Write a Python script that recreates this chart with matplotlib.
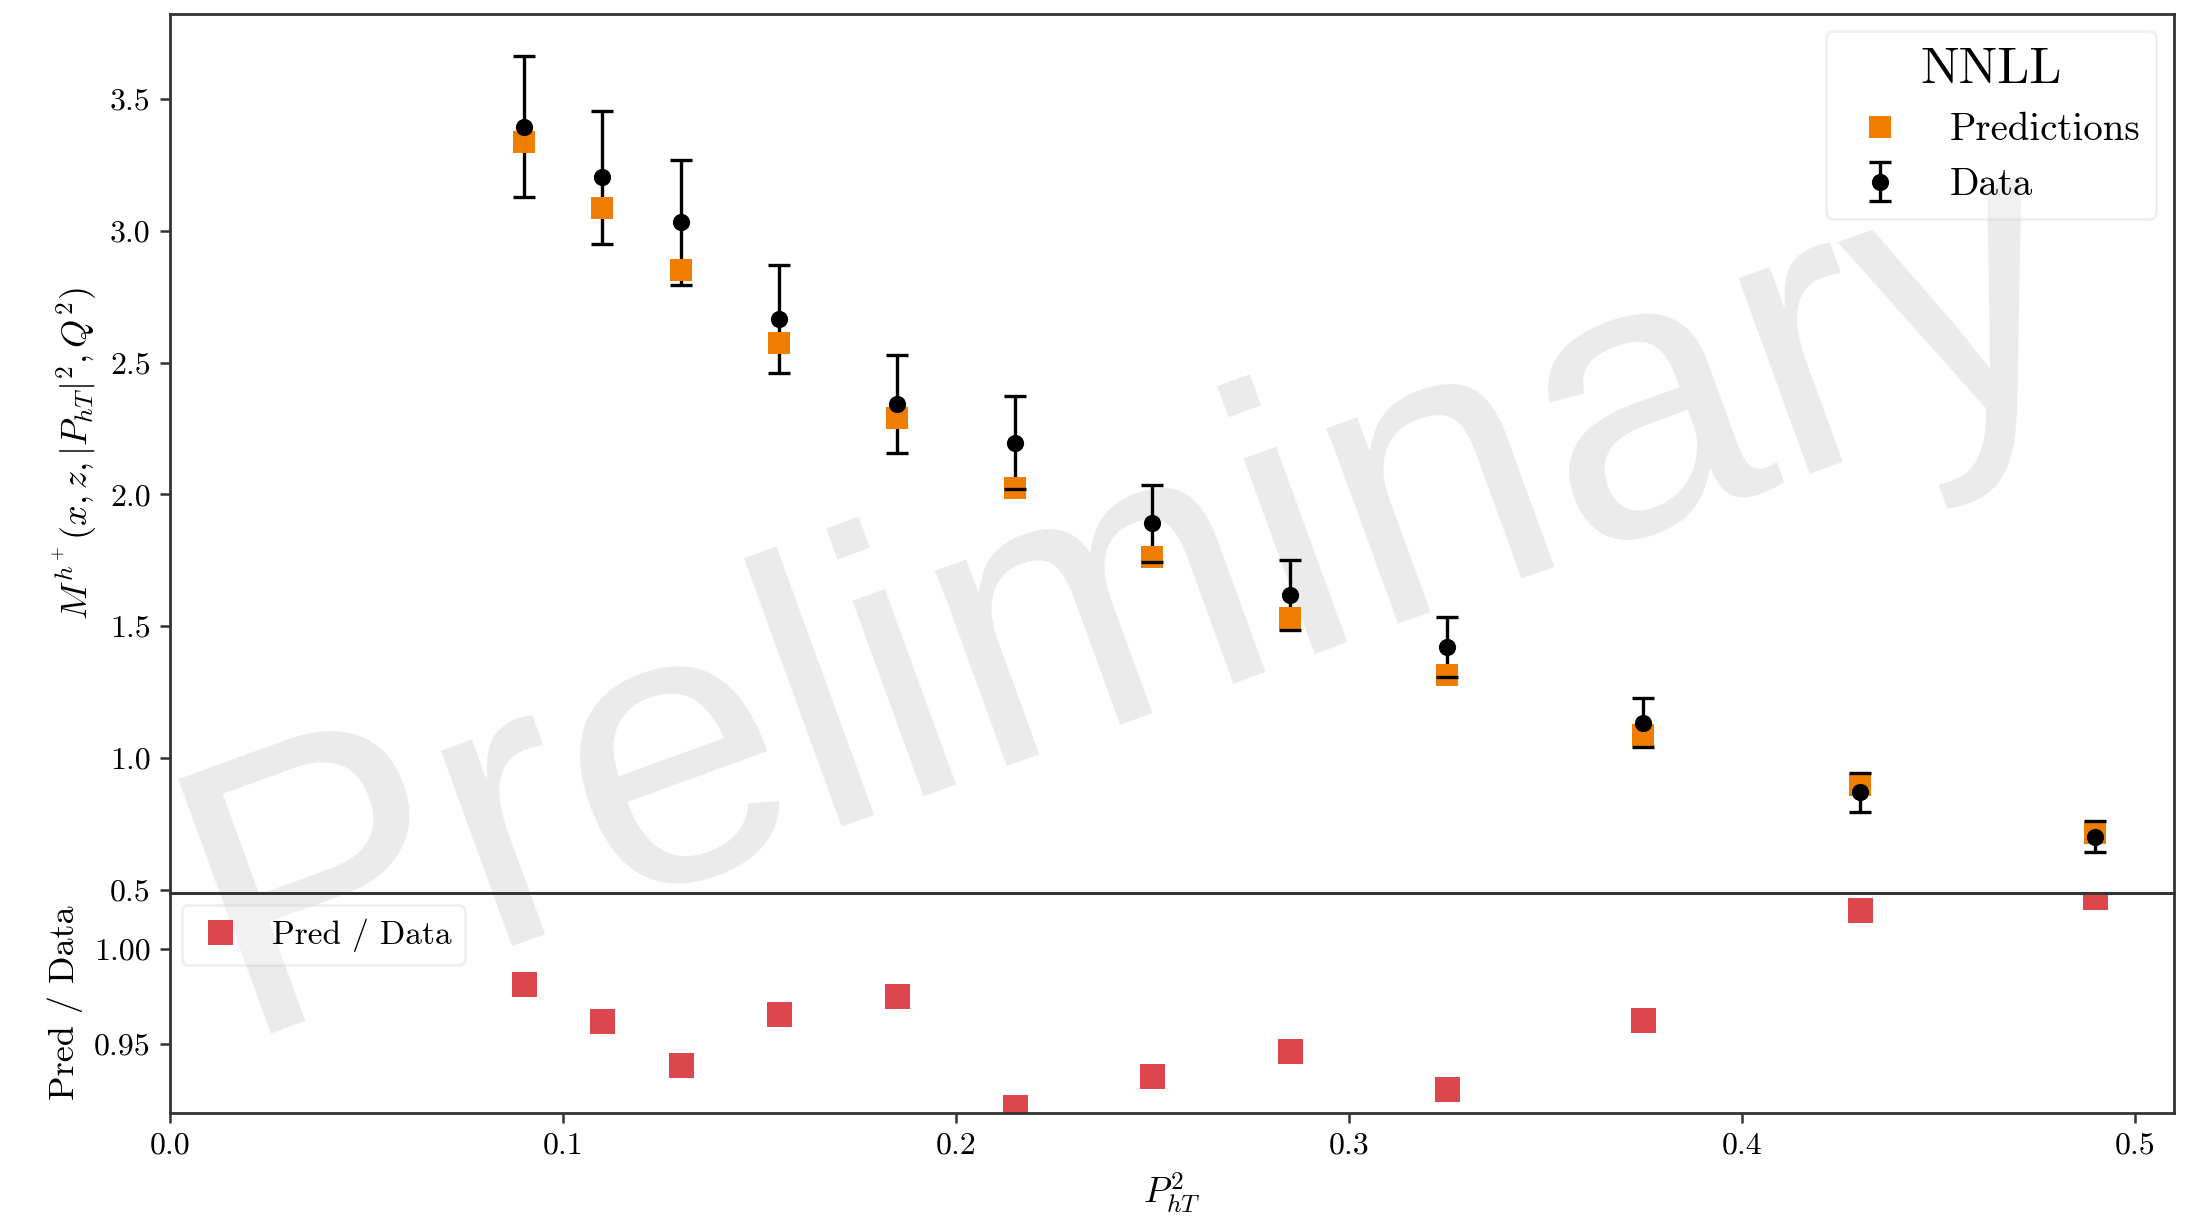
import numpy as np
import matplotlib
matplotlib.use("Agg")
import matplotlib.pyplot as plt

plt.rcParams["font.family"] = "serif"
plt.rcParams["font.serif"] = ["cmr10"]
plt.rcParams["mathtext.fontset"] = "cm"
plt.rcParams["axes.formatter.use_mathtext"] = True

# P_hT^2 bins
pt2 = [0.09, 0.11, 0.13, 0.155, 0.185, 0.215, 0.25, 0.285, 0.325, 0.375, 0.43, 0.49]

# measured multiplicities and their uncertainties
data = [3.396, 3.203, 3.032, 2.666, 2.344, 2.197, 1.891, 1.618, 1.422, 1.134, 0.869, 0.701]
data_err = [0.268, 0.251, 0.237, 0.205, 0.186, 0.176, 0.146, 0.132, 0.114, 0.092, 0.074, 0.058]

# NNLL predictions
pred = [3.339, 3.087, 2.850, 2.574, 2.289, 2.024, 1.764, 1.532, 1.316, 1.087, 0.897, 0.716]

# ratio panel
ratio = [0.9815, 0.9624, 0.9390, 0.9660, 0.9755, 0.9167, 0.9333, 0.9461, 0.9262, 0.9626, 1.0205, 1.0274]

orange = "#ef7d00"
red = "#dc474d"

fig = plt.figure(figsize=(2203 / 200, 1226 / 200), dpi=200)
gs = fig.add_gridspec(2, 1, height_ratios=[4, 1], hspace=0,
                      left=0.0772, right=0.9868, top=0.9886, bottom=0.0922)
ax = fig.add_subplot(gs[0])
axr = fig.add_subplot(gs[1], sharex=ax)

for a in (ax, axr):
    a.set_facecolor("none")
    for s in a.spines.values():
        s.set_linewidth(1.0)
        s.set_color("#333333")
    a.tick_params(direction="out", labelsize=11.5, width=0.9, length=3.5, color="#333333")

# watermark behind both panels
fig.text(0.529, 0.432, "Preliminary", family="Liberation Sans", fontsize=142,
         color="#ebebeb", rotation=20, rotation_mode="anchor",
         ha="center", va="baseline", zorder=-1)

# main panel
eb = ax.errorbar(pt2, data, yerr=data_err, fmt="o", color="k", ms=6.2,
                 elinewidth=1.2, capsize=4, capthick=1.2, label="Data", zorder=3)
eb[0].set_markeredgewidth(0)
for bl in eb[2]:
    bl.set_zorder(1)
ax.plot(pt2, pred, "s", color=orange, ms=7.6, mew=0, ls="none",
        label="Predictions", zorder=2)

ax.set_ylim(0.487, 3.823)
ax.set_yticks(np.arange(0.5, 3.51, 0.5))
ax.yaxis.set_major_formatter(matplotlib.ticker.FormatStrFormatter("%.1f"))
ax.tick_params(axis="x", bottom=False, labelbottom=False)
ax.set_ylabel(r"$M^{h^+}(x, z, |P_{hT}|^2, Q^2)$", fontsize=13)

handles, labels = ax.get_legend_handles_labels()
order = [labels.index("Predictions"), labels.index("Data")]
ax.legend([handles[i] for i in order], [labels[i] for i in order],
          loc="upper right", title="NNLL", fontsize=14, title_fontsize=18.5,
          framealpha=0.3, borderaxespad=0.45)

# ratio panel
axr.plot(pt2, ratio, "s", color=red, ms=9, mew=0, ls="none", label="Pred / Data")
axr.set_ylim(0.9137, 1.0295)
axr.set_yticks([0.95, 1.00])
axr.yaxis.set_major_formatter(matplotlib.ticker.FormatStrFormatter("%.2f"))
axr.set_xlim(0, 0.51)
axr.set_xticks(np.arange(0, 0.51, 0.1))
axr.xaxis.set_major_formatter(matplotlib.ticker.FormatStrFormatter("%.1f"))
axr.set_ylabel("Pred / Data", fontsize=13)
axr.set_xlabel(r"$P_{hT}^2$", fontsize=13)
axr.legend(loc="upper left", fontsize=12, framealpha=0.3, borderaxespad=0.35,
           handlelength=1.5, handletextpad=0.8)

fig.savefig("out.png", dpi=200)
